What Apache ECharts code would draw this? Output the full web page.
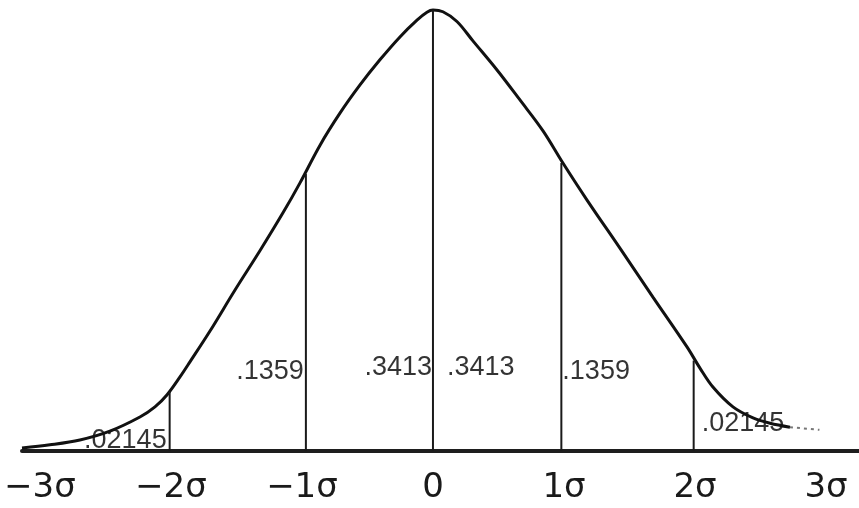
<!DOCTYPE html>
<html>
<head>
<meta charset="utf-8">
<script src="https://cdn.jsdelivr.net/npm/echarts@6/dist/echarts.min.js"></script>
<style>
  html, body { margin: 0; padding: 0; background: #ffffff; }
  #chart { width: 859px; height: 508px; }
</style>
</head>
<body>
<div id="chart"></div>
<script>
// curve (x in sigma units, height relative to the peak)
const curveX = [-3.137, -2.924, -2.695, -2.466, -2.237, -2.122, -2.031, -1.931, -1.855, -1.702, -1.511, -1.321, -1.145, -1.015,
  -0.863, -0.710, -0.557, -0.405, -0.252, -0.122, -0.046, 0,
  0.076, 0.183, 0.305, 0.489, 0.664, 0.840, 0.992, 1.176, 1.427, 1.679, 1.939, 2.038, 2.137, 2.290, 2.443, 2.573, 2.725]
const curveY = [0.007, 0.014, 0.025, 0.045, 0.077, 0.100, 0.127, 0.168, 0.202, 0.272, 0.365, 0.454, 0.540, 0.608,
  0.693, 0.766, 0.830, 0.887, 0.939, 0.977, 0.995, 1.0,
  0.996, 0.974, 0.930, 0.864, 0.796, 0.726, 0.653, 0.569, 0.460, 0.349, 0.236, 0.188, 0.145, 0.100, 0.075, 0.063, 0.054]
// dotted end of the right tail
const tailX = [2.725, 2.95]
const tailY = [0.054, 0.048]
// vertical dividers and where they meet the curve
const dividerX = [-2.01, -0.97, 0, 0.98, 1.99]
const dividerTop = [0.135, 0.628, 1.0, 0.653, 0.205]
// area labels and tick labels
const areaLabels = ['.02145', '.1359', '.3413', '.3413', '.1359', '.02145']
const tickValues = [-3, -2, -1, 0, 1, 2, 3]
const tickLabels = ['\u22123\u03c3', '\u22122\u03c3', '\u22121\u03c3', '0', '1\u03c3', '2\u03c3', '3\u03c3']

const chart = echarts.init(document.getElementById('chart'))

// which divider each label sits against, on which side, and at what height
const labelSpots = [
  { at: 0, side: 'left', h: 0.023, gap: 3 },
  { at: 1, side: 'left', h: 0.180, gap: 2 },
  { at: 2, side: 'left', h: 0.190, gap: 1 },
  { at: 2, side: 'right', h: 0.190, gap: 14 },
  { at: 3, side: 'right', h: 0.180, gap: 1 },
  { at: 4, side: 'right', h: 0.063, gap: 8 }
]

const dividerSeries = dividerX.map((x, i) => ({
  type: 'line',
  data: [[x, 0], [x, dividerTop[i]]],
  symbol: 'none',
  silent: true,
  clip: false,
  lineStyle: { color: '#1a1a1a', width: 2 }
}))

chart.setOption({
  animation: false,
  backgroundColor: '#ffffff',
  grid: { left: 22, right: 0, top: 10, bottom: 57 },
  xAxis: {
    type: 'value',
    min: -3.137,
    max: 3.252,
    splitLine: { show: false },
    axisTick: { show: false },
    axisLine: { show: true, lineStyle: { color: '#1e1e1e', width: 4 } },
    axisLabel: {
      customValues: tickValues,
      formatter: v => tickLabels[tickValues.indexOf(Math.round(v))],
      margin: 20,
      color: '#1a1a1a',
      fontSize: 34,
      fontFamily: 'DejaVu Sans'
    }
  },
  yAxis: {
    type: 'value',
    min: 0,
    max: 1,
    show: false
  },
  series: [
    {
      type: 'line',
      data: curveX.map((x, i) => [x, curveY[i]]),
      symbol: 'none',
      smooth: 0.35,
      clip: false,
      silent: true,
      lineStyle: { color: '#111111', width: 3 }
    },
    {
      type: 'line',
      data: tailX.map((x, i) => [x, tailY[i]]),
      symbol: 'none',
      clip: false,
      silent: true,
      lineStyle: { color: '#777777', width: 2, type: [3, 4] }
    },
    ...dividerSeries,
    {
      type: 'scatter',
      symbolSize: 0,
      silent: true,
      data: labelSpots.map((s, i) => ({
        name: areaLabels[i],
        value: [dividerX[s.at], s.h],
        label: { position: s.side, distance: s.gap }
      })),
      label: {
        show: true,
        formatter: p => p.name,
        color: '#000000',
        fontSize: 27,
        fontFamily: 'Liberation Sans'
      }
    }
  ]
})

window.addEventListener('resize', () => chart.resize())
</script>
</body>
</html>
